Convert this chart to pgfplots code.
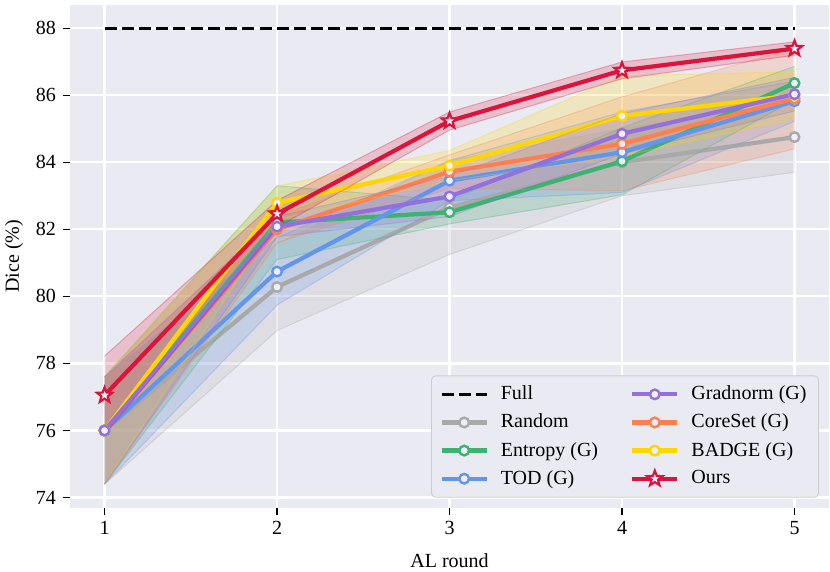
\documentclass[border=0pt]{standalone}
\usepackage{pgfplots}
\pgfplotsset{compat=1.18}
\usepackage{pgfplotstable}
\usepgfplotslibrary{fillbetween}
\usepackage{fontspec}
\setmainfont{Liberation Serif}
\definecolor{bgc}{HTML}{EAEAF2}
\definecolor{rnd}{HTML}{A9A9A9}
\definecolor{ent}{HTML}{3CB371}
\definecolor{tod}{HTML}{6495ED}
\definecolor{grd}{HTML}{9370DB}
\definecolor{cor}{HTML}{FF7F50}
\definecolor{bdg}{HTML}{FFD700}
\definecolor{our}{HTML}{DC143C}
\definecolor{lgedge}{HTML}{CCCCCC}
\definecolor{mfill}{HTML}{F0EEFA}

\pgfdeclareplotmark{fstar}{%
  \pgfpathmoveto{\pgfqpointpolar{90}{\pgfplotmarksize}}%
  \pgfpathlineto{\pgfqpointpolar{126}{0.42\pgfplotmarksize}}%
  \pgfpathlineto{\pgfqpointpolar{162}{\pgfplotmarksize}}%
  \pgfpathlineto{\pgfqpointpolar{198}{0.42\pgfplotmarksize}}%
  \pgfpathlineto{\pgfqpointpolar{234}{\pgfplotmarksize}}%
  \pgfpathlineto{\pgfqpointpolar{270}{0.42\pgfplotmarksize}}%
  \pgfpathlineto{\pgfqpointpolar{306}{\pgfplotmarksize}}%
  \pgfpathlineto{\pgfqpointpolar{342}{0.42\pgfplotmarksize}}%
  \pgfpathlineto{\pgfqpointpolar{18}{\pgfplotmarksize}}%
  \pgfpathlineto{\pgfqpointpolar{54}{0.42\pgfplotmarksize}}%
  \pgfpathclose
  \pgfusepathqfillstroke
}

\pgfplotstableread{
x m s
1 76.00 1.60
2 80.28 1.30
3 82.65 1.40
4 84.00 1.00
5 84.75 1.05
}\trnd
\pgfplotstableread{
x m s
1 76.00 1.60
2 82.20 1.10
3 82.51 0.35
4 84.03 1.00
5 86.36 0.50
}\tent
\pgfplotstableread{
x m s
1 76.00 1.60
2 80.74 1.00
3 83.45 0.60
4 84.30 1.20
5 85.82 0.60
}\ttod
\pgfplotstableread{
x m s
1 76.00 1.60
2 82.08 0.30
3 82.98 0.60
4 84.85 0.60
5 86.03 0.50
}\tgrd
\pgfplotstableread{
x m s
1 76.00 1.60
2 82.00 0.40
3 83.72 0.50
4 84.55 1.40
5 85.90 1.50
}\tcor
\pgfplotstableread{
x m s
1 76.00 1.60
2 82.79 0.50
3 83.90 0.45
4 85.38 1.20
5 86.00 0.70
}\tbdg
\pgfplotstableread{
x m s
1 77.05 1.17
2 82.46 0.40
3 85.23 0.27
4 86.74 0.25
5 87.39 0.20
}\tour

\pgfplotsset{
  cstyle/.style={#1, line width=2.1pt, mark=*, mark size=2.4pt, mark options={fill=mfill, draw=#1, line width=1.2pt, solid}},
  sstyle/.style={our, line width=2.1pt, mark=fstar, mark size=4pt, mark options={fill=mfill, draw=our, line width=1.1pt, solid, line join=miter}},
}

\newcommand{\band}[3]{%
\addplot[#2, draw opacity=0.3, line width=0.5pt, name path=lo#3, forget plot] table[x=x, y expr=\thisrow{m}-\thisrow{s}] {#1};
\addplot[#2, draw opacity=0.3, line width=0.5pt, name path=hi#3, forget plot] table[x=x, y expr=\thisrow{m}+\thisrow{s}] {#1};
\addplot[fill=#2, fill opacity=0.2, draw=none, forget plot] fill between[of=lo#3 and hi#3];
}
\newcommand{\mline}[2]{%
\addplot[cstyle=#2, forget plot] table[x=x, y=m] {#1};
}

\begin{document}
\begin{tikzpicture}
\begin{axis}[
  at={(0pt,0pt)}, anchor=south west,
  scale only axis, width=379pt, height=251pt,
  xmin=0.8, xmax=5.2, ymin=73.7, ymax=88.69,
  xtick={1,2,3,4,5}, ytick={74,76,78,80,82,84,86,88},
  grid=major, major grid style={white, line width=1.1pt},
  axis background/.style={fill=bgc},
  axis line style={draw=none},
  tick align=outside, tick pos=left,
  major tick length=3.5pt,
  tick style={black, line width=0.6pt},
  /pgf/number format/assume math mode=true,
  ticklabel style={font=\fontsize{10}{12}\selectfont},
  label style={font=\fontsize{10}{12}\selectfont},
  xlabel={AL round}, ylabel={Dice (\%)},
  xlabel style={at={(axis description cs:0.5,-0.1056)}, anchor=center},
  ylabel style={at={(axis description cs:-0.0739,0.5)}, anchor=center},
  legend columns=2,
  legend cell align=left,
  legend image code/.code={\draw[mark repeat=2, mark phase=2, #1] plot coordinates {(0pt,0pt) (11.25pt,0pt) (22.5pt,0pt)};},
  legend style={at={(0.9868,0.02)}, anchor=south east, draw=lgedge, fill=bgc, rounded corners=2pt,
    font=\fontsize{10}{12}\selectfont, row sep=1.6pt, inner xsep=4pt, inner ysep=3pt,
    /tikz/every odd column/.append style={column sep=4pt},
    /tikz/every even column/.append style={column sep=14pt}},
]
\addplot[black, line width=1.6pt, dash pattern=on 6pt off 2.6pt, forget plot] coordinates {(1,88) (5,88)};

\band{\trnd}{rnd}{a}
\mline{\trnd}{rnd}
\band{\tent}{ent}{b}
\mline{\tent}{ent}
\band{\ttod}{tod}{c}
\mline{\ttod}{tod}
\band{\tcor}{cor}{e}
\mline{\tcor}{cor}
\band{\tbdg}{bdg}{f}
\mline{\tbdg}{bdg}
\band{\tgrd}{grd}{d}
\mline{\tgrd}{grd}
\band{\tour}{our}{g}
\addplot[sstyle, forget plot] table[x=x, y=m] {\tour};

\addlegendimage{black, line width=1.6pt, dash pattern=on 6pt off 2.6pt}
\addlegendentry{Full}
\addlegendimage{cstyle=grd}
\addlegendentry{Gradnorm (G)}
\addlegendimage{cstyle=rnd}
\addlegendentry{Random}
\addlegendimage{cstyle=cor}
\addlegendentry{CoreSet (G)}
\addlegendimage{cstyle=ent}
\addlegendentry{Entropy (G)}
\addlegendimage{cstyle=bdg}
\addlegendentry{BADGE (G)}
\addlegendimage{cstyle=tod}
\addlegendentry{TOD (G)}
\addlegendimage{sstyle}
\addlegendentry{Ours}
\end{axis}
\pgfresetboundingbox
\useasboundingbox (-35pt,-32pt) rectangle (379.5pt,253.5pt);
\end{tikzpicture}
\end{document}
